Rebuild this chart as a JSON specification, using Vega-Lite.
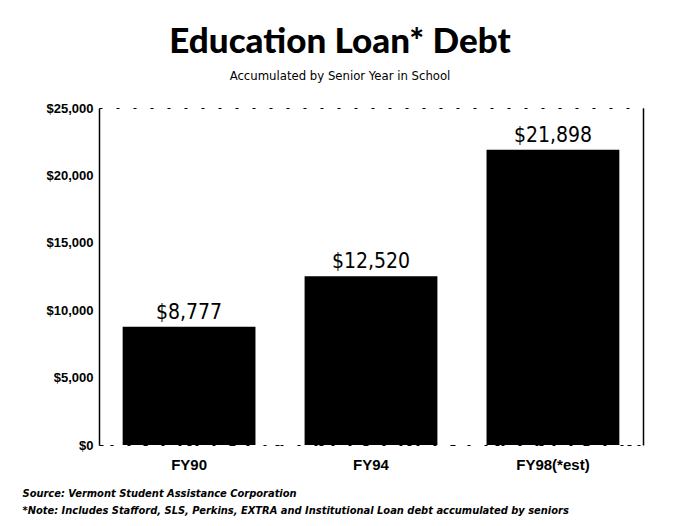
{
  "$schema": "https://vega.github.io/schema/vega-lite/v6.json",
  "width": 544,
  "height": 337,
  "autosize": "none",
  "padding": {"left": 99, "top": 108, "right": 38, "bottom": 81},
  "background": "white",
  "title": {
    "text": "Education Loan* Debt",
    "subtitle": "Accumulated by Senior Year in School",
    "anchor": "middle",
    "frame": "group",
    "dx": -31,
    "offset": 19,
    "font": "Lato",
    "fontSize": 35,
    "fontWeight": 900,
    "color": "#000",
    "subtitleFont": "DejaVu Sans Condensed, Roboto, sans-serif",
    "subtitleFontSize": 13,
    "subtitleColor": "#000",
    "subtitlePadding": 10
  },
  "config": {
    "view": {"stroke": "#000", "strokeDash": [3, 14], "strokeWidth": 1},
    "axis": {"grid": false, "ticks": false}
  },
  "data": {
    "values": [
      {"year": "FY90", "debt": 8777, "label": "$8,777"},
      {"year": "FY94", "debt": 12520, "label": "$12,520"},
      {"year": "FY98(*est)", "debt": 21898, "label": "$21,898"}
    ]
  },
  "encoding": {
    "x": {
      "field": "year",
      "type": "nominal",
      "sort": null,
      "scale": {"paddingInner": 0.27, "paddingOuter": 0.13},
      "axis": {
        "labelAngle": 0,
        "labelFont": "Liberation Sans",
        "labelFontWeight": "bold",
        "labelFontSize": 15,
        "labelColor": "#000",
        "labelPadding": 12,
        "domainColor": "#000",
        "domainDash": [4, 40],
        "title": [
          "Source: Vermont Student Assistance Corporation",
          "*Note: Includes Stafford, SLS, Perkins, EXTRA and Institutional Loan debt accumulated by seniors"
        ],
        "titleFont": "DejaVu Sans Condensed, Roboto, sans-serif",
        "titleFontSize": 11,
        "titleFontWeight": "bold",
        "titleFontStyle": "italic",
        "titleColor": "#000",
        "titleAnchor": "start",
        "titleAlign": "left",
        "titleBaseline": "top",
        "titleX": -77,
        "titleY": 42,
        "titleLineHeight": 17
      }
    },
    "y": {
      "field": "debt",
      "type": "quantitative",
      "scale": {"domain": [0, 25000], "nice": false}
    }
  },
  "layer": [
    {
      "mark": {"type": "bar", "color": "#000"},
      "encoding": {
        "y": {
          "field": "debt",
          "type": "quantitative",
          "axis": {
            "values": [0, 5000, 10000, 15000, 20000, 25000],
            "format": "$,d",
            "title": null,
            "labelFont": "Liberation Sans",
            "labelFontWeight": "bold",
            "labelFontSize": 13,
            "labelColor": "#000",
            "labelPadding": 6,
            "domainColor": "#000",
            "domainWidth": 1.5
          }
        }
      }
    },
    {
      "mark": {
        "type": "text",
        "baseline": "bottom",
        "dy": -4,
        "font": "DejaVu Sans Condensed, Roboto, sans-serif",
        "fontSize": 21,
        "color": "#000"
      },
      "encoding": {
        "text": {"field": "label"},
        "y": {
          "field": "debt",
          "type": "quantitative",
          "axis": {
            "orient": "right",
            "labels": false,
            "title": null,
            "domainColor": "#000",
            "domainWidth": 1.5
          }
        }
      }
    }
  ],
  "resolve": {"axis": {"y": "independent"}}
}
